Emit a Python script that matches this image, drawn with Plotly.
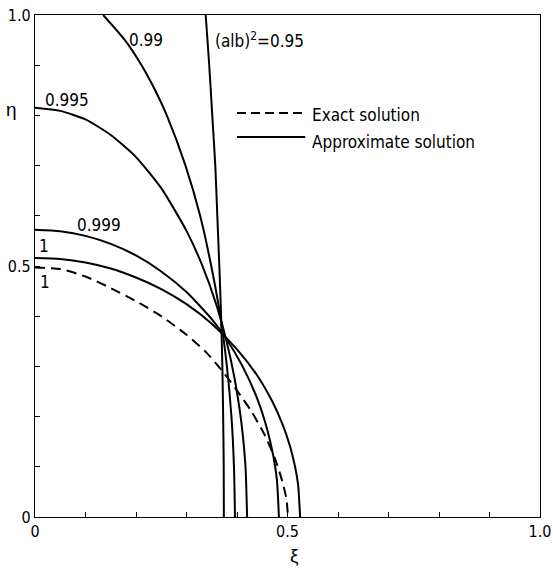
import plotly.graph_objects as go

# ---- data (xi, eta) ----
exact_xi  = [0, 0.05, 0.10, 0.15, 0.20, 0.25, 0.30, 0.34, 0.37, 0.40, 0.43, 0.455, 0.475, 0.49, 0.498, 0.501]
exact_eta = [0.497, 0.494, 0.479, 0.456, 0.430, 0.400, 0.363, 0.327, 0.292, 0.252, 0.208, 0.163, 0.117, 0.070, 0.035, 0]

c1_xi  = [0, 0.05, 0.10, 0.15, 0.20, 0.25, 0.30, 0.35, 0.40, 0.44, 0.47, 0.49, 0.505, 0.515, 0.521, 0.525]
c1_eta = [0.516, 0.514, 0.507, 0.495, 0.477, 0.454, 0.424, 0.385, 0.334, 0.282, 0.230, 0.185, 0.141, 0.100, 0.064, 0]

c999_xi  = [0, 0.05, 0.10, 0.15, 0.20, 0.25, 0.30, 0.35, 0.38, 0.41, 0.44, 0.46, 0.472, 0.479, 0.483]
c999_eta = [0.572, 0.569, 0.560, 0.544, 0.521, 0.489, 0.448, 0.394, 0.353, 0.302, 0.236, 0.174, 0.121, 0.074, 0]

c995_xi  = [0, 0.05, 0.10, 0.15, 0.20, 0.25, 0.30, 0.33, 0.36, 0.38, 0.395, 0.405, 0.412, 0.417, 0.42]
c995_eta = [0.815, 0.809, 0.792, 0.761, 0.717, 0.655, 0.570, 0.504, 0.420, 0.347, 0.277, 0.216, 0.158, 0.097, 0]

c99_xi  = [0.135, 0.178, 0.211, 0.238, 0.261, 0.298, 0.327, 0.349, 0.367, 0.380, 0.389, 0.394, 0.396]
c99_eta = [1.0, 0.95, 0.90, 0.85, 0.80, 0.70, 0.60, 0.50, 0.40, 0.30, 0.20, 0.10, 0]

c95_xi  = [0.338, 0.345, 0.351, 0.357, 0.361, 0.365, 0.3685, 0.371, 0.3726, 0.3737, 0.374]
c95_eta = [1.0, 0.9, 0.8, 0.7, 0.6, 0.5, 0.4, 0.3, 0.2, 0.1, 0]

tick_vals = [0, 0.5, 1.0]
tick_text = ["0", "0.5", "1.0"]
minor_step = 0.1

curve_labels = [("0.99", 0.220, 0.950), ("0.995", 0.063, 0.831), ("0.999", 0.127, 0.582),
                ("1", 0.018, 0.540), ("1", 0.020, 0.468)]

FONT = "Liberation Sans Narrow, DejaVu Sans Condensed, Liberation Sans, Arial, sans-serif"
GREEK = "Liberation Sans, DejaVu Sans, sans-serif"

fig = go.Figure()
fig.add_trace(go.Scatter(x=exact_xi, y=exact_eta, mode="lines",
                         line=dict(color="black", width=2, dash="10px,6px", shape="spline", smoothing=0.6)))
for xs, ys in [(c1_xi, c1_eta), (c999_xi, c999_eta), (c995_xi, c995_eta), (c99_xi, c99_eta), (c95_xi, c95_eta)]:
    fig.add_trace(go.Scatter(x=xs, y=ys, mode="lines",
                             line=dict(color="black", width=2, shape="spline", smoothing=0.6)))

annotations = []
for txt, x, y in curve_labels:
    annotations.append(dict(x=x, y=y, text=txt, showarrow=False, xref="x", yref="y",
                            xanchor="center", yanchor="middle",
                            font=dict(size=17, color="black", family=FONT)))
annotations.append(dict(x=0.352, y=0.950, text="(alb)<sup>2</sup>=0.95", showarrow=False,
                        xanchor="left", yanchor="middle",
                        font=dict(size=17, color="black", family=FONT)))
annotations.append(dict(x=0.545, y=0.801, text="Exact solution", showarrow=False,
                        xanchor="left", yanchor="middle",
                        font=dict(size=17, color="black", family=FONT)))
annotations.append(dict(x=0.545, y=0.747, text="Approximate solution", showarrow=False,
                        xanchor="left", yanchor="middle",
                        font=dict(size=17, color="black", family=FONT)))
annotations.append(dict(x=-0.046, y=0.811, text="η", showarrow=False, xref="paper", yref="paper",
                        xanchor="center", yanchor="middle",
                        font=dict(size=19, color="black", family=GREEK)))
annotations.append(dict(x=0.513, y=-0.076, text="ξ", showarrow=False, xref="paper", yref="paper",
                        xanchor="center", yanchor="middle",
                        font=dict(size=19, color="black", family=GREEK)))

shapes = [
    dict(type="line", x0=0.400, x1=0.535, y0=0.805, y1=0.805, xref="x", yref="y",
         line=dict(color="black", width=2, dash="9px,5px")),
    dict(type="line", x0=0.400, x1=0.535, y0=0.757, y1=0.757, xref="x", yref="y",
         line=dict(color="black", width=2)),
]

axis_common = dict(range=[0, 1], showgrid=False, zeroline=False, showline=True, mirror=True,
                   linecolor="black", linewidth=1.3, ticks="inside", ticklen=5, tickwidth=1,
                   tickcolor="black", tickmode="array", tickvals=tick_vals, ticktext=tick_text,
                   automargin=False,
                   minor=dict(ticks="inside", ticklen=5, tickwidth=1, tickcolor="black",
                              dtick=minor_step, tick0=0, showgrid=False),
                   tickfont=dict(size=16, color="black", family=FONT))

fig.update_layout(
    width=553, height=574,
    margin=dict(l=35, r=13, t=15, b=57, autoexpand=False),
    paper_bgcolor="white", plot_bgcolor="white",
    showlegend=False,
    xaxis=axis_common,
    yaxis=axis_common,
    annotations=annotations,
    shapes=shapes,
)

fig.write_html("out.html", config={"displayModeBar": False},
               post_script="document.body.style.margin='0';")
